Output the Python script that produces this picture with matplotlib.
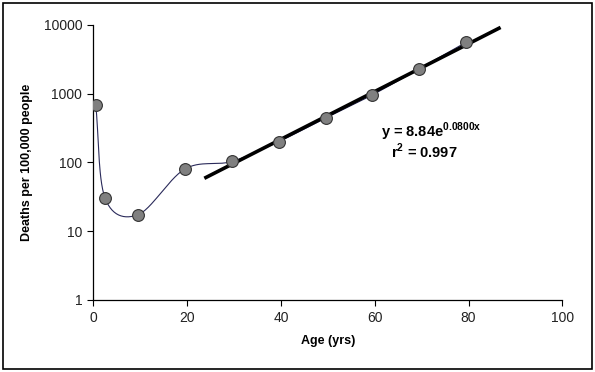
import numpy as np
import matplotlib.pyplot as plt
from matplotlib.patches import Rectangle

plt.rcParams['font.family'] = ['Liberation Sans', 'DejaVu Sans']

# data
ages = [0.5, 2.5, 9.5, 19.5, 29.5, 39.5, 49.5, 59.5, 69.5, 79.5]
deaths = [690, 30, 17.3, 80, 103, 200, 440, 960, 2300, 5600]

# exponential fit shown on the chart
fit_a = 8.84
fit_b = 0.0800
fit_r2 = 0.997
fit_range = [24, 86.5]


def catmull_rom(xs, ys, n=30):
    # smooth curve through points, like a spreadsheet "smoothed line"
    xs = np.asarray(xs, float)
    ys = np.asarray(ys, float)
    px = np.concatenate([[2 * xs[0] - xs[1]], xs, [2 * xs[-1] - xs[-2]]])
    py = np.concatenate([[2 * ys[0] - ys[1]], ys, [2 * ys[-1] - ys[-2]]])
    outx, outy = [], []
    t = np.linspace(0, 1, n)
    for i in range(1, len(px) - 2):
        for p, out in ((px, outx), (py, outy)):
            p0, p1, p2, p3 = p[i - 1], p[i], p[i + 1], p[i + 2]
            out.extend(0.5 * ((2 * p1) + (-p0 + p2) * t
                              + (2 * p0 - 5 * p1 + 4 * p2 - p3) * t ** 2
                              + (-p0 + 3 * p1 - 3 * p2 + p3) * t ** 3))
    return np.array(outx), np.array(outy)


fig = plt.figure(figsize=(5.95, 3.72), dpi=100)
ax = fig.add_axes([0.157, 0.194, 0.788, 0.739])

sx, sy = catmull_rom(ages, np.log10(deaths))
ax.plot(sx, 10 ** sy, color='#2a2a5a', lw=0.8, zorder=2)

fx = np.linspace(fit_range[0], fit_range[1], 100)
ax.plot(fx, fit_a * np.exp(fit_b * fx), color='black', lw=2.6, zorder=3)

ax.plot(ages, deaths, 'o', ms=8.5, mfc='#808080', mec='#333333', mew=0.8, zorder=4)

ax.set_yscale('log')
ax.set_xlim(0, 100)
ax.set_ylim(1, 10000)
ax.set_xticks([0, 20, 40, 60, 80, 100])
ax.set_yticks([1, 10, 100, 1000, 10000])
ax.set_yticklabels(['1', '10', '100', '1000', '10000'])
ax.minorticks_off()
ax.tick_params(direction='out', length=4, width=0.8, labelsize=10, pad=4,
               labelcolor='#222222')
for s in ['top', 'right']:
    ax.spines[s].set_visible(False)
for s in ['left', 'bottom']:
    ax.spines[s].set_linewidth(0.9)

ax.set_xlabel('Age (yrs)', fontsize=9, fontweight='bold', labelpad=7)
ax.set_ylabel('Deaths per 100,000 people', fontsize=9, fontweight='bold', labelpad=8)

ax.text(72.0, 275, r'y = %.2fe$^{\mathregular{%.4fx}}$' % (fit_a, fit_b),
        fontsize=10.5, fontweight='bold', ha='center', va='center')
ax.text(70.5, 145, r'r$^{\mathregular{2}}$ = %.3f' % fit_r2,
        fontsize=10.5, fontweight='bold', ha='center', va='center')

fig.patches.append(Rectangle((0.005, 0.008), 0.99, 0.984, transform=fig.transFigure,
                             fill=False, edgecolor='black', lw=1.2))

fig.savefig('out.png', dpi=100)
